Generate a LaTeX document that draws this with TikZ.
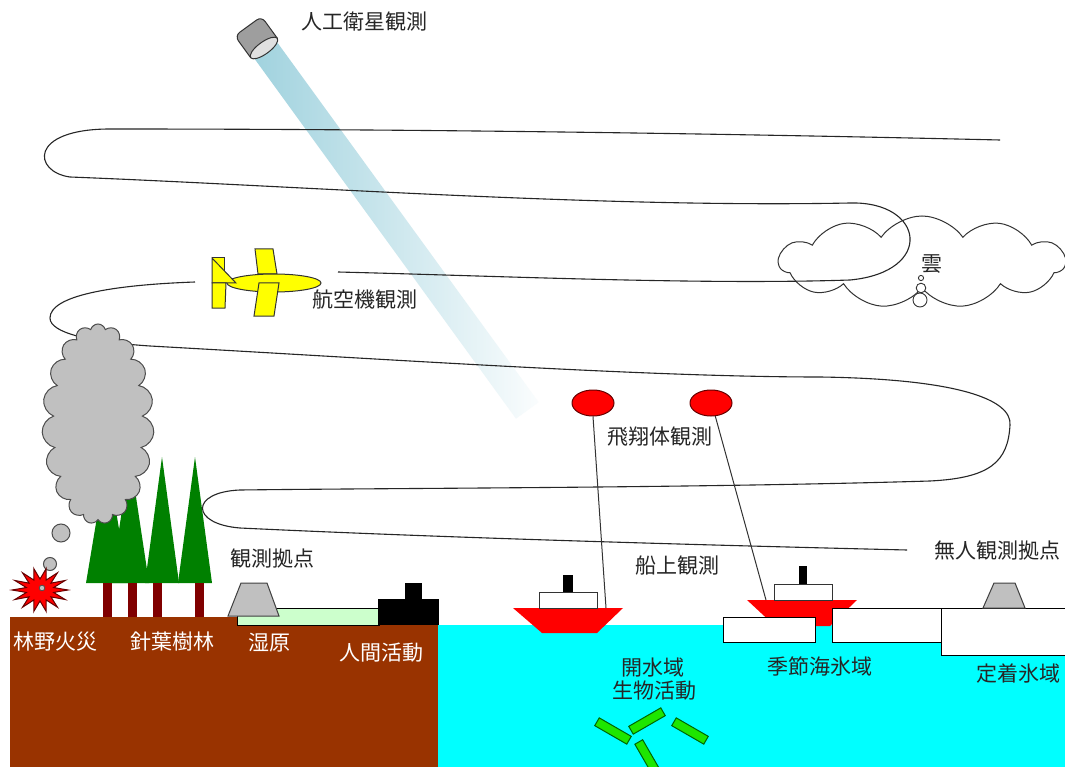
\documentclass[tikz,border=0pt]{standalone}
\usepackage{fontspec}
\newfontfamily\jp{Noto Sans CJK JP}
\usetikzlibrary{shapes.geometric,shapes.symbols,calc}

\definecolor{soil}{RGB}{153,51,0}
\definecolor{sea}{RGB}{0,255,255}
\definecolor{marsh}{RGB}{204,255,204}
\definecolor{pine}{RGB}{0,128,0}
\definecolor{trunk}{RGB}{128,0,0}
\definecolor{stone}{RGB}{192,192,192}
\definecolor{beam}{RGB}{160,210,222}
\definecolor{plankton}{RGB}{30,230,0}
\definecolor{planeyellow}{RGB}{255,255,0}

\begin{document}
\begin{tikzpicture}[x=1pt,y=-1pt,
  lbl/.style={font=\jp\fontsize{21}{24}\selectfont, text=black!85, inner sep=0pt},
  wlbl/.style={lbl, text=white},
  track/.style={draw=black!85, line width=1.1pt},
  station/.style={fill=stone, draw=black!75, line width=1pt},
  hull/.style={fill=red},
  cabin/.style={fill=white, draw=black!80, line width=1pt},
  floe/.style={fill=white, draw=black, line width=1pt},
  planepart/.style={fill=planeyellow, draw=black!80, line width=1pt},
  balloon/.style={ellipse, fill=red, draw=black!60!red, line width=1pt,
                  minimum width=42pt, minimum height=26pt, inner sep=0pt},
  tether/.style={draw=black!80, line width=1pt},
  cell/.style={rectangle, fill=plankton, draw=black!60!green, line width=1pt,
               minimum width=37pt, minimum height=9pt, inner sep=0pt},
  puff/.style={fill=stone, draw=black!70, line width=1pt}]

\useasboundingbox (0,0) rectangle (1065,767);
\clip (0,0) rectangle (1065,767);
\fill[white] (0,0) rectangle (1065,767);

% satellite beam
\begin{scope}[shift={(264,48)}, rotate=-54]
  \shade[left color=beam, middle color=beam!85, right color=beam!5]
    (0,-14) rectangle (448,14);
\end{scope}

% cloud
\node[cloud, cloud puffs=11, cloud puff arc=110, cloud ignores aspect, minimum width=286pt,
      minimum height=92pt, fill=white, draw=black!80, line width=1pt] (cloud) at (922,262) {};
\draw[fill=white, draw=black!80, line width=0.9pt] (921,278) circle (2.6);
\draw[fill=white, draw=black!80, line width=0.9pt] (921,288) circle (4.8);
\draw[fill=white, draw=black!80, line width=0.9pt] (920,300) circle (7);

% conifers
\foreach \ax/\hw in {107/21, 130/19, 162/17, 195/17}{
  \fill[pine] (\ax,457) -- (\ax+\hw,583) -- (\ax-\hw,583) -- cycle;
}
\foreach \tx in {103,128,153,195}{
  \fill[trunk] (\tx,583) rectangle (\tx+9,617);
}

% ground and sea
\fill[soil] (10,617) rectangle (438,767);
\fill[sea] (438,625) rectangle (1065,767);
\filldraw[fill=marsh, draw=black, line width=1pt] (237,608) rectangle (379,625);
\filldraw[station] (228,616) -- (279,616) -- (267,583) -- (241,583) -- cycle;
\fill[black] (378,599) rectangle (439,625);
\fill[black] (405,583) rectangle (422,599);

% ship in open water
\fill[hull] (513,608) -- (623,608) -- (597,633) -- (542,633) -- cycle;
\filldraw[cabin] (539,592) rectangle (597,608);
\fill[black] (563,575) rectangle (573,592);
\coordinate (s1top) at (606,608);

% ship in the seasonal ice zone
\fill[hull] (747,600) -- (857,600) -- (830,626) -- (775,626) -- cycle;
\filldraw[cabin] (774,584) rectangle (832,600);
\fill[black] (799,566) rectangle (807,584);
\coordinate (s2top) at (766,600);

% ice floes
\filldraw[floe] (723,617) rectangle (815,642);
\filldraw[floe] (832,608) rectangle (941,642);
\filldraw[floe] (941,608) rectangle (1075,655);
\filldraw[station] (983,608) -- (1025,608) -- (1015,583) -- (994,583) -- cycle;

% plankton
\node[cell, rotate=-30] (c1) at (613,731) {};
\node[cell, rotate=30]  (c2) at (647,721) {};
\node[cell, rotate=-30] (c3) at (690,731) {};
\node[cell, rotate=-60] (c4) at (648,758) {};

% flight track
\draw[track] (1000,140) .. controls (700,133) and (400,129) .. (110,129)
  .. controls (28,129) and (33,172) .. (70,177)
  .. controls (300,186) and (600,208) .. (850,203)
  .. controls (925,201) and (935,272) .. (850,280)
  .. controls (700,285) and (500,276) .. (338,272);
\draw[track] (195,282) .. controls (110,285) and (50,296) .. (50,318)
  .. controls (50,333) and (90,342) .. (150,346)
  .. controls (400,360) and (650,377) .. (820,377)
  .. controls (960,379) and (1012,400) .. (1010,425)
  .. controls (1008,462) and (990,478) .. (930,481)
  .. controls (700,488) and (400,488) .. (240,490)
  .. controls (190,492) and (190,524) .. (240,528)
  .. controls (450,538) and (700,545) .. (907,550);

% smoke and fire
\node[cloud, cloud puffs=19, cloud ignores aspect, minimum width=112pt,
      minimum height=200pt, fill=stone, draw=black!70, line width=1pt] (smoke) at (98,424) {};
\filldraw[puff] (61,533) circle (9);
\filldraw[puff] (50,564) circle (6.5);
\filldraw[fill=red, draw=black!60!red, line width=1pt]
  ($(40,590)+(0:28 and 22)$)
  \foreach \i [evaluate=\i as \r using {1-0.5*mod(\i,2)}] in {1,...,27}{
    -- ($(40,590)+({\i*360/28}:{28*\r} and {22*\r})$) } -- cycle;
\filldraw[puff, line width=0.8pt] (42,588) circle (2.8);

% satellite
\begin{scope}[shift={(264,48)}, rotate=-54]
  \filldraw[fill=black!38, draw=black!80, line width=1pt, rounded corners=6pt]
    (0,-16.5) -- (-27,-16.5) -- (-27,16.5) -- (0,16.5);
  \filldraw[fill=black!12, draw=black!80, line width=1pt] (0,0) ellipse (6 and 16.5);
\end{scope}

% aircraft
\filldraw[planepart] (255,249) -- (273,249) -- (277,274) -- (258,274) -- cycle;
\filldraw[planepart] (274,283) ellipse (47 and 9);
\filldraw[planepart] (212,258) rectangle (224,283);
\filldraw[planepart] (212,258) -- (236,283) -- (212,283) -- cycle;
\filldraw[planepart] (212,283) -- (226,283) -- (225,308) -- (212,308) -- cycle;
\filldraw[planepart] (259,283) -- (279,283) -- (274,316) -- (254,316) -- cycle;

% balloons
\node[balloon] (b1) at (593,403) {};
\node[balloon] (b2) at (711,403) {};
\draw[tether] (b1.south) -- (s1top);
\draw[tether] (b2.-72) -- (s2top);

% labels
\node[lbl] (lsat) at (364,22) {人工衛星観測};
\node[lbl] (lplane) at (365,300) {航空機観測};
\node[lbl] (lcloud) at (932,264) {雲};
\node[lbl] (lballoon) at (660,437) {飛翔体観測};
\node[lbl] (lstation) at (272,559) {観測拠点};
\node[lbl] (lship) at (677,566) {船上観測};
\node[lbl] (lauto) at (997,551) {無人観測拠点};
\node[wlbl] (lfire) at (55,642) {林野火災};
\node[wlbl] (lforest) at (172,642) {針葉樹林};
\node[wlbl] (lmarsh) at (269,643) {湿原};
\node[wlbl] (lhuman) at (381,653) {人間活動};
\node[lbl] (lopen) at (653,668) {開水域};
\node[lbl] (lbio) at (654,691) {生物活動};
\node[lbl] (lseasonal) at (820,666) {季節海氷域};
\node[lbl] (lfast) at (1018,674) {定着氷域};
\end{tikzpicture}
\end{document}
